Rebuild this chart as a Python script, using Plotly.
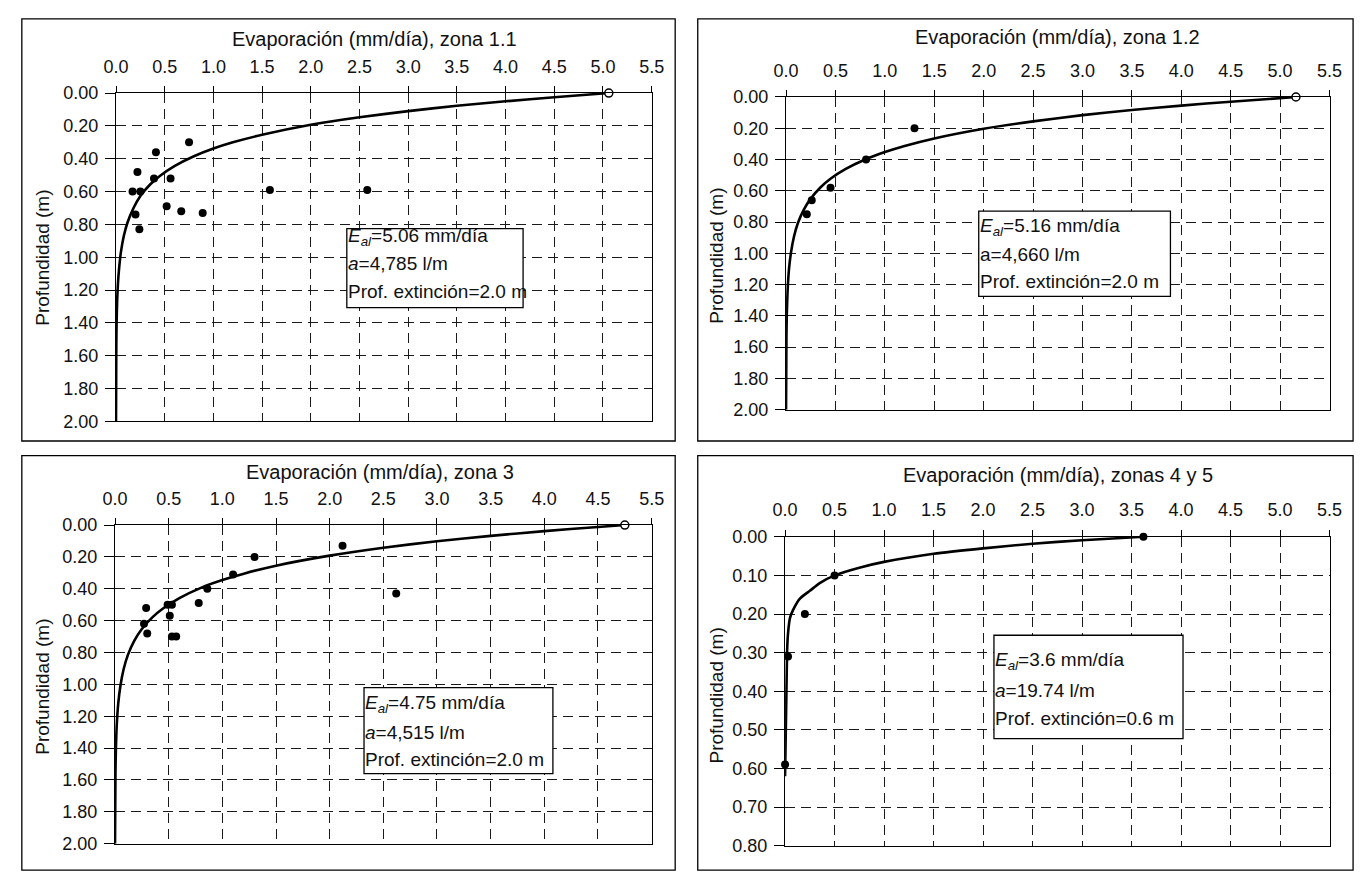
import plotly.graph_objects as go

# ---------------- DATA ----------------
x_ticks_std = [0.0, 0.5, 1.0, 1.5, 2.0, 2.5, 3.0, 3.5, 4.0, 4.5, 5.0, 5.5]
x_labels_std = ["0.0", "0.5", "1.0", "1.5", "2.0", "2.5", "3.0", "3.5", "4.0", "4.5", "5.0", "5.5"]
x_ticks_z3 = [0.0, 0.5, 1.0, 1.5, 2.0, 2.5, 3.0, 3.5, 4.0, 4.5, 5.0]
x_labels_z3 = ["0.0", "0.5", "1.0", "1.5", "2.0", "2.5", "3.0", "3.5", "4.0", "4.5", "5.5"]
y_ticks_2m = [0.0, 0.2, 0.4, 0.6, 0.8, 1.0, 1.2, 1.4, 1.6, 1.8, 2.0]
y_labels_2m = ["0.00", "0.20", "0.40", "0.60", "0.80", "1.00", "1.20", "1.40", "1.60", "1.80", "2.00"]
y_ticks_08 = [0.0, 0.1, 0.2, 0.3, 0.4, 0.5, 0.6, 0.7, 0.8]
y_labels_08 = ["0.00", "0.10", "0.20", "0.30", "0.40", "0.50", "0.60", "0.70", "0.80"]

titles = ["Evaporación (mm/día), zona 1.1", "Evaporación (mm/día), zona 1.2",
          "Evaporación (mm/día), zona 3", "Evaporación (mm/día), zonas 4 y 5"]
y_title = "Profundidad (m)"

box_lines_1 = ["<i>E</i><sub><i>al</i></sub>=5.06 mm/día", "<i>a</i>=4,785 l/m", "Prof. extinción=2.0 m"]
box_lines_2 = ["<i>E</i><sub><i>al</i></sub>=5.16 mm/día", "a=4,660 l/m", "Prof. extinción=2.0 m"]
box_lines_3 = ["<i>E</i><sub><i>al</i></sub>=4.75 mm/día", "<i>a</i>=4,515 l/m", "Prof. extinción=2.0 m"]
box_lines_4 = ["<i>E</i><sub><i>al</i></sub>=3.6 mm/día", "<i>a</i>=19.74 l/m", "Prof. extinción=0.6 m"]

# zona 1.1
curve1_e = [5.06, 4.5, 4.0, 3.5, 3.0, 2.5, 2.0, 1.5, 1.2, 1.0, 0.8, 0.6, 0.45, 0.35, 0.25, 0.18, 0.12, 0.08, 0.05, 0.03, 0.02, 0.012, 0.006, 0.003, 0.0]
curve1_d = [0.00, 0.025, 0.05, 0.077, 0.11, 0.147, 0.193, 0.254, 0.30, 0.338, 0.385, 0.445, 0.505, 0.557, 0.627, 0.70, 0.785, 0.87, 0.97, 1.08, 1.16, 1.26, 1.40, 1.55, 2.0]
obs1_e = [0.75, 0.41, 0.22, 0.39, 0.56, 0.17, 0.25, 1.58, 2.58, 0.52, 0.67, 0.89, 0.20, 0.24]
obs1_d = [0.30, 0.36, 0.48, 0.52, 0.52, 0.60, 0.60, 0.59, 0.59, 0.69, 0.72, 0.73, 0.74, 0.83]
surf1_e = [5.06]
surf1_d = [0.0]

# zona 1.2
curve2_e = [5.16, 4.5, 4.0, 3.5, 3.0, 2.5, 2.0, 1.5, 1.2, 1.0, 0.8, 0.6, 0.45, 0.35, 0.25, 0.18, 0.12, 0.08, 0.05, 0.03, 0.015, 0.008, 0.004, 0.0]
curve2_d = [0.00, 0.03, 0.055, 0.083, 0.116, 0.156, 0.203, 0.265, 0.313, 0.352, 0.40, 0.462, 0.523, 0.577, 0.65, 0.72, 0.806, 0.894, 0.995, 1.10, 1.25, 1.38, 1.53, 2.0]
obs2_e = [1.30, 0.81, 0.45, 0.26, 0.21]
obs2_d = [0.20, 0.40, 0.58, 0.66, 0.75]
surf2_e = [5.16]
surf2_d = [0.0]

# zona 3
curve3_e = [4.75, 4.5, 4.0, 3.5, 3.0, 2.5, 2.0, 1.5, 1.2, 1.0, 0.8, 0.6, 0.45, 0.35, 0.25, 0.18, 0.12, 0.08, 0.05, 0.03, 0.015, 0.008, 0.004, 0.0]
curve3_d = [0.00, 0.012, 0.038, 0.068, 0.102, 0.142, 0.192, 0.255, 0.305, 0.345, 0.394, 0.458, 0.522, 0.578, 0.652, 0.725, 0.815, 0.905, 1.01, 1.12, 1.27, 1.41, 1.56, 2.0]
obs3_e = [2.12, 1.30, 1.10, 0.86, 2.62, 0.78, 0.49, 0.53, 0.29, 0.51, 0.27, 0.30, 0.53, 0.57]
obs3_d = [0.13, 0.20, 0.31, 0.40, 0.43, 0.49, 0.50, 0.50, 0.52, 0.57, 0.62, 0.68, 0.70, 0.70]
surf3_e = [4.75]
surf3_d = [0.0]

# zonas 4 y 5
curve4_e = [3.62, 3.0, 2.5, 2.0, 1.5, 1.0, 0.75, 0.5, 0.35, 0.25, 0.15, 0.08, 0.05, 0.03, 0.02, 0.0]
curve4_d = [0.00, 0.009, 0.018, 0.03, 0.044, 0.065, 0.08, 0.10, 0.12, 0.14, 0.16, 0.19, 0.21, 0.25, 0.30, 0.62]
obs4_e = [3.62, 0.50, 0.20, 0.03, 0.00]
obs4_d = [0.00, 0.10, 0.20, 0.31, 0.59]

# ---------------- LAYOUT HELPERS ----------------
W, H = 1370, 883
FONT = "Liberation Sans, Arial, sans-serif"
FS_TICK = 18
FS_TITLE = 20
FS_YTITLE = 19
FS_BOX = 19
TXT = "#111111"


def fx(px):
    return px / W


def fy(py):
    return 1 - py / H


panels = [
    dict(dom=(105, 651, 85, 421), xr=[0, 5.5], xt=(x_ticks_std, x_labels_std), yr=[2.0, 0.0],
         yt=(y_ticks_2m, y_labels_2m), curve=(curve1_e, curve1_d), obs=(obs1_e, obs1_d),
         surf=(surf1_e, surf1_d), title=(369, 30), ytitle=(30, 253),
         box=(2.37, 4.18, 0.826, 1.307), lines_y=[0.876, 1.04, 1.207], lines=box_lines_1),
    dict(dom=(788, 1342, 89, 409), xr=[0, 5.5], xt=(x_ticks_std, x_labels_std), yr=[2.0, 0.0],
         yt=(y_ticks_2m, y_labels_2m), curve=(curve2_e, curve2_d), obs=(obs2_e, obs2_d),
         surf=(surf2_e, surf2_d), title=(1065, 28), ytitle=(717, 251),
         box=(1.95, 3.89, 0.73, 1.275), lines_y=[0.83, 1.006, 1.18], lines=box_lines_2),
    dict(dom=(104, 651, 527, 853), xr=[0, 5.0], xt=(x_ticks_z3, x_labels_z3), yr=[2.0, 0.0],
         yt=(y_ticks_2m, y_labels_2m), curve=(curve3_e, curve3_d), obs=(obs3_e, obs3_d),
         surf=(surf3_e, surf3_d), title=(374, 473), ytitle=(30, 692),
         box=(2.32, 4.08, 1.02, 1.56), lines_y=[1.125, 1.30, 1.47], lines=box_lines_3),
    dict(dom=(787, 1342, 539, 855), xr=[0, 5.5], xt=(x_ticks_std, x_labels_std), yr=[0.8, 0.0],
         yt=(y_ticks_08, y_labels_08), curve=(curve4_e, curve4_d), obs=(obs4_e, obs4_d),
         surf=None, title=(1065, 476), ytitle=(717, 701),
         box=(2.11, 4.02, 0.255, 0.523), lines_y=[0.322, 0.398, 0.47], lines=box_lines_4),
]

fig = go.Figure()
shapes = []
annotations = []
layout_axes = {}

for i, p in enumerate(panels):
    n = "" if i == 0 else str(i + 1)
    xa, ya = "x" + n, "y" + n
    x0, x1, y0, y1 = p["dom"]
    axis_common = dict(
        showgrid=True, gridcolor="#1a1a1a", gridwidth=1, griddash="10px,6px",
        showline=True, mirror=True, linecolor="black", linewidth=1.3,
        ticks="outside", tickcolor="black", zeroline=False,
        tickfont=dict(family=FONT, size=FS_TICK, color=TXT),
    )
    layout_axes["xaxis" + n] = dict(
        axis_common, domain=[fx(x0), fx(x1)], anchor=ya, side="top", range=p["xr"],
        tickmode="array", tickvals=p["xt"][0], ticktext=p["xt"][1], ticklen=6,
        ticklabelstandoff=6)
    layout_axes["yaxis" + n] = dict(
        axis_common, domain=[fy(y1), fy(y0)], anchor=xa, range=p["yr"],
        tickmode="array", tickvals=p["yt"][0], ticktext=p["yt"][1], ticklen=10,
        ticklabelstandoff=3)

    ce, cd = p["curve"]
    fig.add_trace(go.Scatter(x=ce, y=cd, mode="lines",
                             line=dict(color="black", width=2.6, shape="spline", smoothing=0.6),
                             xaxis=xa, yaxis=ya, showlegend=False, hoverinfo="skip", cliponaxis=False))
    oe, od = p["obs"]
    fig.add_trace(go.Scatter(x=oe, y=od, mode="markers", marker=dict(color="black", size=8),
                             xaxis=xa, yaxis=ya, showlegend=False, cliponaxis=False))
    if p["surf"] is not None:
        se, sd = p["surf"]
        fig.add_trace(go.Scatter(x=se, y=sd, mode="markers",
                                 marker=dict(color="white", size=8, line=dict(color="black", width=1.5)),
                                 xaxis=xa, yaxis=ya, showlegend=False, cliponaxis=False))

    # outer panel frame
    fx0, fx1 = (9, 675) if i in (0, 2) else (698, 1366)
    fy0, fy1 = (9, 441) if i in (0, 1) else (456, 880)
    shapes.append(dict(type="rect", xref="paper", yref="paper", x0=fx(fx0), x1=fx(fx1),
                       y0=fy(fy1), y1=fy(fy0), line=dict(color="black", width=1.3)))

    # info box
    bx0, bx1, by0, by1 = p["box"]
    shapes.append(dict(type="rect", xref=xa, yref=ya, x0=bx0, x1=bx1, y0=by0, y1=by1,
                       layer="above", fillcolor="white", line=dict(color="black", width=1.3)))
    for txt, ly in zip(p["lines"], p["lines_y"]):
        annotations.append(dict(xref=xa, yref=ya, x=bx0, y=ly, text=txt, showarrow=False,
                                xanchor="left", yanchor="middle", borderpad=0,
                                font=dict(family=FONT, size=FS_BOX, color=TXT)))

    tx, ty = p["title"]
    annotations.append(dict(xref="paper", yref="paper", x=fx(tx), y=fy(ty), text=titles[i],
                            showarrow=False, xanchor="center", yanchor="middle",
                            font=dict(family=FONT, size=FS_TITLE, color=TXT)))
    yx, yy = p["ytitle"]
    annotations.append(dict(xref="paper", yref="paper", x=fx(yx), y=fy(yy), text=y_title,
                            showarrow=False, xanchor="center", yanchor="middle", textangle=-90,
                            font=dict(family=FONT, size=FS_YTITLE, color=TXT)))

fig.update_layout(
    width=W, height=H, margin=dict(l=0, r=0, t=0, b=0),
    paper_bgcolor="white", plot_bgcolor="white",
    font=dict(family=FONT, size=FS_TICK, color=TXT),
    shapes=shapes, annotations=annotations, showlegend=False,
    **layout_axes,
)

fig.write_html("out.html", config={"displayModeBar": False},
               post_script="document.body.style.margin='0';document.body.style.overflow='hidden';")
